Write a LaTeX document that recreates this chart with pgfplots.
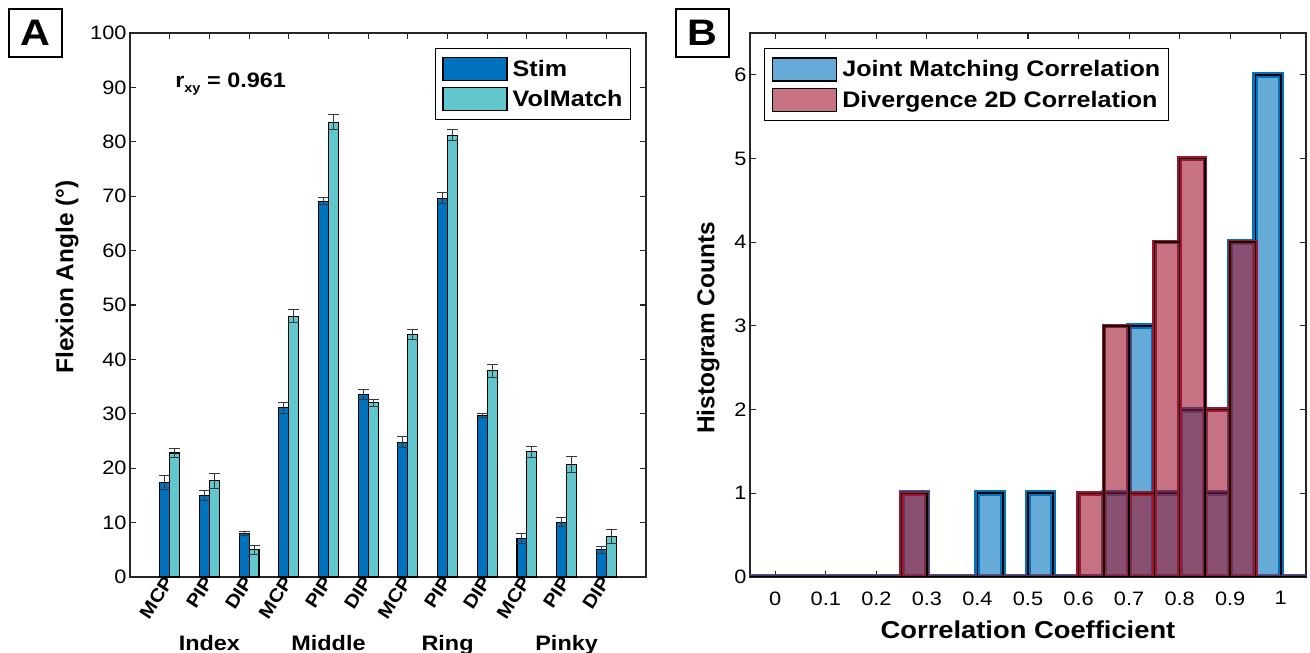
\documentclass[border=0pt]{standalone}
\usepackage{fontspec}
\setmainfont{Liberation Sans}[FakeStretch=1.12]
\newfontfamily\rotfont{Liberation Sans}
\usepackage{pgfplots}
\usepackage{pgfplotstable}
\pgfplotsset{compat=1.18}
\definecolor{stimblue}{RGB}{0,114,189}
\definecolor{volcyan}{RGB}{98,198,205}
\definecolor{mblue}{RGB}{0,114,189}
\definecolor{mred}{RGB}{162,20,47}
\definecolor{legblue}{RGB}{102,170,215}
\definecolor{legred}{RGB}{199,114,130}
\definecolor{axgray}{RGB}{38,38,38}
\definecolor{errgray}{RGB}{55,55,55}

\pgfplotstableread{
x stim serr vol verr
1 17.4 1.3 22.8 0.8
2 15.0 0.9 17.7 1.4
3 8.0 0.4 5.0 0.8
4 31.1 1.0 47.9 1.2
5 69.1 0.6 83.6 1.4
6 33.6 0.9 32.0 0.7
7 24.8 1.0 44.6 0.9
8 69.6 1.0 81.2 1.0
9 29.7 0.4 37.9 1.2
10 7.1 0.9 23.0 1.0
11 10.1 0.9 20.7 1.5
12 5.0 0.6 7.4 1.3
}\anglesdata

\pgfplotstableread{
x joint div
-0.05 0 0
0 0 0
0.05 0 0
0.1 0 0
0.15 0 0
0.2 0 0
0.25 1 1
0.3 0 0
0.35 0 0
0.4 1 0
0.45 0 0
0.5 1 0
0.55 0 0
0.6 0 1
0.65 1 3
0.7 3 1
0.75 1 4
0.8 2 5
0.85 1 2
0.9 4 4
0.95 6 0
1.0 0 0
1.05 0 0
}\histdata

\pgfplotsset{
  mystyle/.style={
    scale only axis,
    anchor=south west,
    tick align=inside,
    xtick pos=both, ytick pos=both,
    xticklabel pos=lower, yticklabel pos=left,
    major tick length=6bp,
    axis line style={draw=axgray, line width=1.1bp},
    every tick/.style={draw=axgray, line width=1.1bp},
    tick label style={font=\fontsize{19.5}{20}\selectfont, text=black},
    /pgf/number format/assume math mode=true,
    ylabel style={font=\rotfont\bfseries\fontsize{24.5}{25}\selectfont, anchor=center},
    legend cell align=left,
  },
  myerr/.style={draw=none, mark=none, forget plot,
    error bars/.cd, y dir=both, y explicit,
    error bar style={draw=errgray, line width=1bp},
    error mark options={rotate=90, draw=errgray, line width=1bp, mark size=5.5bp}},
}

\begin{document}
\begin{tikzpicture}
\useasboundingbox (0,0) rectangle (1310bp,653bp);

% Panel letters
\node[draw=black, line width=2.5bp, minimum width=53bp, minimum height=48bp, inner sep=0pt,
      font=\bfseries\fontsize{37}{37}\selectfont] at (35.5bp,620bp) {A};
\node[draw=black, line width=2.5bp, minimum width=53bp, minimum height=48bp, inner sep=0pt,
      font=\bfseries\fontsize{37}{37}\selectfont] at (702.5bp,620bp) {B};

% ---------------- Panel A ----------------
\begin{axis}[mystyle,
  at={(130bp,76bp)}, width=516bp, height=544bp,
  xmin=0, xmax=13, ymin=0, ymax=100,
  xtick={1,...,12},
  xticklabels={MCP,PIP,DIP,MCP,PIP,DIP,MCP,PIP,DIP,MCP,PIP,DIP},
  x tick label style={font=\bfseries\fontsize{18.5}{19}\selectfont, rotate=57, anchor=east, xshift=2bp},
  ytick={0,10,...,100},
  ylabel={Flexion Angle (°)},
  ylabel style={at={(axis description cs:-0.122,0.5515)}},
  clip=false,
  legend style={at={(axis description cs:0.971,0.9724)}, anchor=north east,
    draw=black, line width=1.2bp, fill=white,
    font=\bfseries\fontsize{22.5}{24}\selectfont,
    inner xsep=7bp, inner ysep=8bp, row sep=6bp, column sep=4bp,
    nodes={inner sep=1bp}},
]
\addplot[ybar, bar width=0.25, bar shift=-0.125, fill=stimblue, draw=black, line width=1.1bp, forget plot]
  table[x=x, y=stim]{\anglesdata};
\addplot[ybar, bar width=0.25, bar shift=0.125, fill=volcyan, draw=black, line width=1.1bp, forget plot]
  table[x=x, y=vol]{\anglesdata};
\addplot[myerr] table[x expr=\thisrow{x}-0.125, y=stim, y error=serr]{\anglesdata};
\addplot[myerr] table[x expr=\thisrow{x}+0.125, y=vol, y error=verr]{\anglesdata};
\addlegendimage{legend image code/.code={\draw[fill=stimblue, draw=black, line width=1.3bp] (0bp,-11.5bp) rectangle (64bp,11.5bp);}}
\addlegendentry{Stim}
\addlegendimage{legend image code/.code={\draw[fill=volcyan, draw=black, line width=1.3bp] (0bp,-11.5bp) rectangle (64bp,11.5bp);}}
\addlegendentry{VolMatch}

\node[anchor=base west, font=\bfseries\fontsize{21}{21}\selectfont]
  at (axis description cs:0.081,0.899) {r\raisebox{-5bp}{\fontsize{13}{13}\selectfont xy} = 0.961};

\node[anchor=base, yshift=-73bp, font=\bfseries\fontsize{21}{21}\selectfont] at (axis cs:2,0) {Index};
\node[anchor=base, yshift=-73bp, font=\bfseries\fontsize{21}{21}\selectfont] at (axis cs:5,0) {Middle};
\node[anchor=base, yshift=-73bp, font=\bfseries\fontsize{21}{21}\selectfont] at (axis cs:8,0) {Ring};
\node[anchor=base, yshift=-73bp, font=\bfseries\fontsize{21}{21}\selectfont] at (axis cs:11,0) {Pinky};
\end{axis}

% ---------------- Panel B ----------------
\begin{axis}[mystyle,
  at={(750bp,76bp)}, width=556bp, height=544bp,
  xmin=-0.05, xmax=1.05, ymin=0, ymax=6.5,
  xtick={0,0.1,0.2,0.3,0.4,0.5,0.6,0.7,0.8,0.9,1},
  xticklabels={0,0.1,0.2,0.3,0.4,0.5,0.6,0.7,0.8,0.9,1},
  x tick label style={yshift=-11bp},
  ytick={0,1,2,3,4,5,6},
  xlabel={Correlation Coefficient},
  xlabel style={font=\bfseries\fontsize{24.5}{25}\selectfont, at={(axis description cs:0.5,0)}, anchor=base, yshift=-61bp},
  ylabel={Histogram Counts},
  ylabel style={at={(axis description cs:-0.0755,0.4577)}},
  legend style={at={(axis description cs:0.025,0.972)}, anchor=north west,
    draw=black, line width=1.2bp, fill=white,
    font=\bfseries\fontsize{22.5}{24}\selectfont,
    inner xsep=7bp, inner ysep=8bp, row sep=6bp, column sep=4bp,
    nodes={inner sep=1bp}},
]
\addplot[ybar interval, fill=mblue, fill opacity=0.6, draw=mblue, line width=6bp, forget plot]
  table[x=x, y=joint]{\histdata};
\addplot[ybar interval, fill=none, draw=black, line width=1.8bp, forget plot]
  table[x=x, y=joint]{\histdata};
\addplot[ybar interval, fill=mred, fill opacity=0.6, draw=mred, line width=4.5bp, forget plot]
  table[x=x, y=div]{\histdata};
\addplot[ybar interval, fill=none, draw=black, line width=1.5bp, forget plot]
  table[x=x, y=div]{\histdata};
\addlegendimage{legend image code/.code={\draw[fill=legblue, draw=black, line width=1.8bp] (0bp,-11.5bp) rectangle (64bp,11.5bp);}}
\addlegendentry{Joint Matching Correlation}
\addlegendimage{legend image code/.code={\draw[fill=legred, draw=black, line width=1.8bp] (0bp,-11.5bp) rectangle (64bp,11.5bp);}}
\addlegendentry{Divergence 2D Correlation}
\end{axis}
\end{tikzpicture}
\end{document}
